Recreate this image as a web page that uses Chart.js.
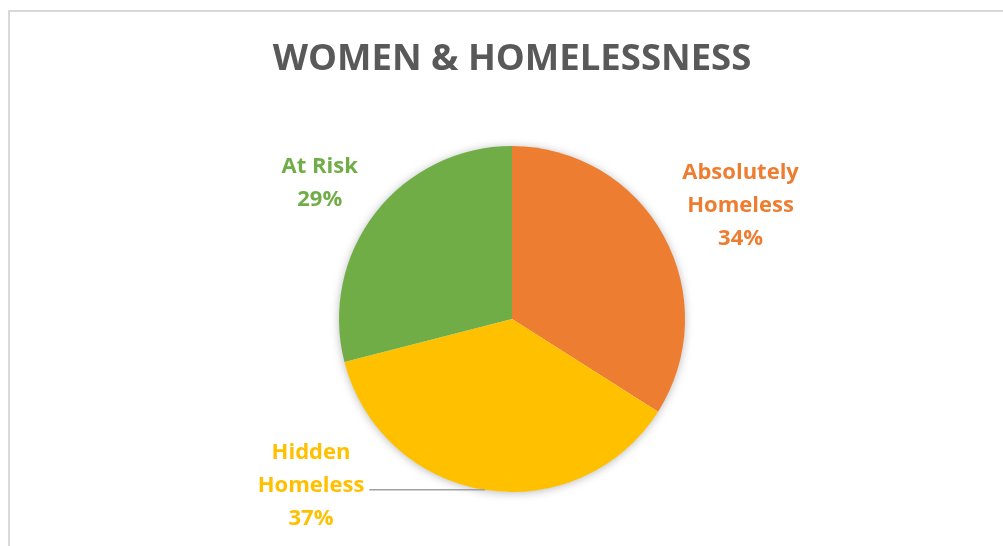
<!DOCTYPE html>
<html>
<head>
<meta charset="utf-8">
<title>Women & Homelessness</title>
<script src="https://cdn.jsdelivr.net/npm/chart.js@4.4.1/dist/chart.umd.min.js"></script>
<style>
  html, body { margin: 0; padding: 0; background: #fff; overflow: hidden; }
  #frame {
    position: absolute; left: 8px; top: 10px;
    width: 1100px; height: 600px;
    border: 2px solid #d9d9d9;
  }
  #wrap { position: absolute; left: 0; top: 0; width: 1003px; height: 546px; }
</style>
</head>
<body>
<div id="frame"></div>
<div id="wrap"><canvas id="pieChart"></canvas></div>
<script>
// data
const categories = ["Absolutely Homeless", "Hidden Homeless", "At Risk"];
const shares = [34, 37, 29];
const sliceColors = ["#ED7D31", "#FFC000", "#70AD47"];
const labelLines = [["Absolutely", "Homeless"], ["Hidden", "Homeless"], ["At Risk"]];

// where each label sits: shift from slice mid angle (deg) and distance in radii
const labelPlacement = [
  { shift: 2.4, dist: 1.475, leader: false },
  { shift: 41.3, dist: 1.51, leader: true },
  { shift: -2.6, dist: 1.36, leader: false }
];

Chart.defaults.font.family = "'Open Sans', sans-serif";

// soft glow under the whole pie
const pieShadow = {
  id: "pieShadow",
  beforeDatasetsDraw(chart) {
    const arc = chart.getDatasetMeta(0).data[0];
    if (!arc) return;
    const { x, y, outerRadius } = arc.getProps(["x", "y", "outerRadius"], true);
    const ctx = chart.ctx;
    ctx.save();
    ctx.shadowColor = "rgba(0,0,0,0.3)";
    ctx.shadowBlur = 10;
    ctx.shadowOffsetY = 1;
    ctx.fillStyle = "#fff";
    ctx.beginPath();
    ctx.arc(x, y, outerRadius - 0.5, 0, Math.PI * 2);
    ctx.fill();
    ctx.restore();
  }
};

// category + percent labels outside the slices
const outsideLabels = {
  id: "outsideLabels",
  afterDatasetsDraw(chart) {
    const ctx = chart.ctx;
    const meta = chart.getDatasetMeta(0);
    const total = shares.reduce((a, b) => a + b, 0);
    const lineH = 33;
    ctx.save();
    ctx.font = "bold 22px 'Open Sans'";
    ctx.textAlign = "center";
    ctx.textBaseline = "middle";
    meta.data.forEach((arc, i) => {
      const p = arc.getProps(["x", "y", "startAngle", "endAngle", "outerRadius"], true);
      const mid = (p.startAngle + p.endAngle) / 2;
      const place = labelPlacement[i];
      const a = mid + place.shift * Math.PI / 180;
      const cx = p.x + Math.cos(a) * p.outerRadius * place.dist;
      const cy = p.y + Math.sin(a) * p.outerRadius * place.dist;
      const lines = labelLines[i].concat([Math.round(shares[i] / total * 100) + "%"]);
      const top = cy - (lines.length - 1) * lineH / 2;
      ctx.fillStyle = sliceColors[i];
      let widest = 0;
      lines.forEach((t, k) => {
        ctx.fillText(t, cx, top + k * lineH);
        widest = Math.max(widest, ctx.measureText(t).width);
      });
      if (place.leader) {
        const ex = p.x + Math.cos(mid) * p.outerRadius;
        const ey = p.y + Math.sin(mid) * p.outerRadius;
        ctx.strokeStyle = "#a0a0a0";
        ctx.lineWidth = 1.5;
        ctx.beginPath();
        ctx.moveTo(cx + widest / 2 + 5, ey);
        ctx.lineTo(ex, ey);
        ctx.stroke();
      }
    });
    ctx.restore();
  }
};

new Chart(document.getElementById("pieChart"), {
  type: "pie",
  data: {
    labels: categories,
    datasets: [{
      data: shares,
      backgroundColor: sliceColors,
      borderWidth: 0
    }]
  },
  options: {
    responsive: true,
    maintainAspectRatio: false,
    animation: false,
    layout: { padding: { top: 0, bottom: 54, left: 250, right: 229 } },
    plugins: {
      legend: { display: false },
      tooltip: { enabled: false },
      title: {
        display: true,
        text: "WOMEN & HOMELESSNESS",
        color: "#595959",
        font: { size: 36.5, weight: "bold" },
        padding: { top: 38, bottom: 64.2 }
      }
    }
  },
  plugins: [pieShadow, outsideLabels]
});
</script>
</body>
</html>
